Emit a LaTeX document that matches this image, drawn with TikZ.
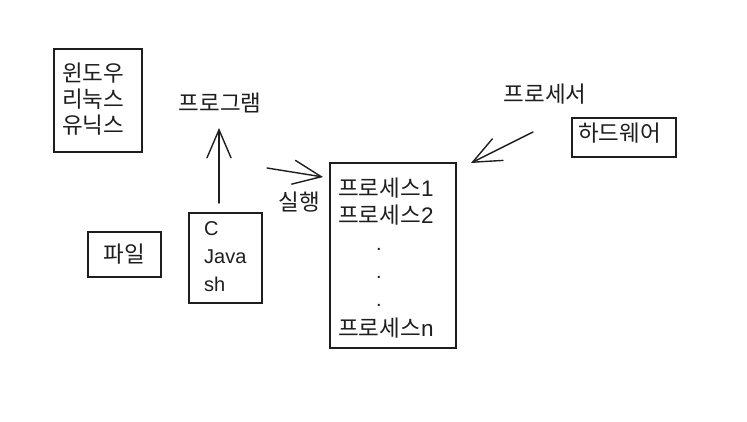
\documentclass[tikz,border=0pt]{standalone}
\usepackage{fontspec}
\setmainfont{Liberation Sans}
\newfontfamily\kr{Noto Sans CJK KR}
\usetikzlibrary{arrows.meta}
\definecolor{ink}{HTML}{1E1E1E}
\begin{document}
\begin{tikzpicture}[x=1pt,y=-1pt,
  box/.style={draw=ink, line width=1.5pt, inner sep=0pt},
  krtext/.style={font=\kr\fontsize{22.5}{26}\selectfont, text=ink, inner sep=0pt},
  lattext/.style={font=\fontsize{20}{28}\selectfont, text=ink, inner sep=0pt},
  arr/.style={draw=ink, line width=1.4pt, line cap=round, -{Straight Barb[length=28pt,width=24pt,line cap=round]}}]
\useasboundingbox[fill=white] (0,0) rectangle (747,422);

% OS box
\node[box, minimum width=88pt, minimum height=103pt] (os) at (98,100.5) {};
\node[krtext, align=left, anchor=west] (ostext) at (62,99.5) {윈도우\\리눅스\\유닉스};

% file box
\node[box, krtext, minimum width=73pt, minimum height=45pt] (file) at (124.5,254.5) {파일};

% languages box
\node[box, minimum width=73pt, minimum height=90pt] (cjs) at (225.5,258) {};
\node[lattext, align=left, anchor=west] (cjstext) at (204,257) {C\\Java\\sh};

% program label and arrow
\node[krtext] (prog) at (220,103) {프로그램};
\coordinate (upS) at (219,203);
\coordinate (upE) at (219,128);
\draw[arr] (upS) -- (upE);

% run arrow
\node[krtext] (run) at (299.5,202) {실행};
\coordinate (runS) at (267,168);
\coordinate (runE) at (323,177);
\draw[arr] (runS) -- (runE);

% process box
\node[box, minimum width=126pt, minimum height=185pt] (proc) at (393,255.5) {};
\node[krtext, anchor=west] (p1) at (338,188) {프로세스\rmfamily 1};
\node[krtext, anchor=west] (p2) at (338,215) {프로세스\rmfamily 2};
\node[lattext, anchor=base] (d1) at (379,251) {.};
\node[lattext, anchor=base] (d2) at (379,278) {.};
\node[lattext, anchor=base] (d3) at (379,306) {.};
\node[krtext, anchor=west] (pn) at (338,328) {프로세스\rmfamily n};

% processor / hardware
\node[krtext] (cpu) at (545,94) {프로세서};
\node[box, minimum width=104pt, minimum height=39pt] (hw) at (624,137.5) {};
\node[krtext] (hwtext) at (619.5,133) {하드웨어};
\coordinate (hwS) at (533,132);
\coordinate (hwE) at (471,163);
\draw[arr] (hwS) -- (hwE);
\end{tikzpicture}
\end{document}
